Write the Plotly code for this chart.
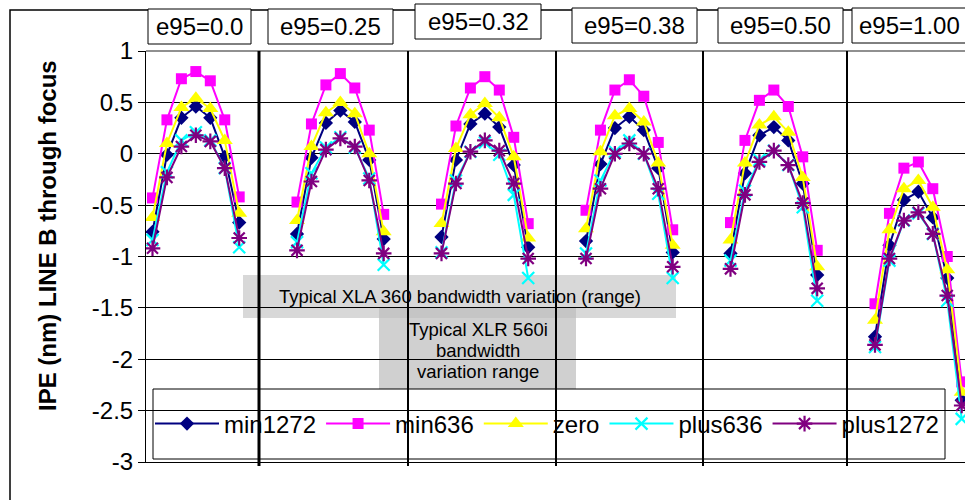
import plotly.graph_objects as go

# ---------------- data ----------------
group_labels = ["e95=0.0", "e95=0.25", "e95=0.32", "e95=0.38", "e95=0.50", "e95=1.00"]
series_names = ["min1272", "min636", "zero", "plus636", "plus1272"]

min1272 = [
    [-0.76, -0.01, 0.35, 0.46, 0.35, -0.03, -0.67],
    [-0.78, -0.04, 0.30, 0.42, 0.31, -0.06, -0.83],
    [-0.81, -0.06, 0.29, 0.39, 0.26, -0.11, -0.91],
    [-0.85, -0.10, 0.25, 0.36, 0.23, -0.14, -0.96],
    [-0.97, -0.19, 0.18, 0.26, 0.13, -0.29, -1.18],
    [-1.78, -0.89, -0.45, -0.37, -0.62, -1.21, -2.40],
]
min636 = [
    [-0.43, 0.33, 0.73, 0.80, 0.71, 0.33, -0.42],
    [-0.47, 0.29, 0.67, 0.78, 0.64, 0.23, -0.59],
    [-0.49, 0.27, 0.64, 0.75, 0.62, 0.16, -0.68],
    [-0.55, 0.23, 0.62, 0.72, 0.56, 0.11, -0.74],
    [-0.67, 0.13, 0.52, 0.62, 0.46, -0.03, -0.94],
    [-1.46, -0.58, -0.14, -0.08, -0.34, -1.00, -2.22],
]
zero = [
    [-0.62, 0.10, 0.45, 0.54, 0.44, 0.13, -0.58],
    [-0.65, 0.07, 0.40, 0.50, 0.39, 0.00, -0.76],
    [-0.68, 0.05, 0.38, 0.49, 0.35, -0.03, -0.82],
    [-0.73, 0.02, 0.37, 0.44, 0.31, -0.09, -0.89],
    [-0.84, -0.09, 0.28, 0.36, 0.21, -0.23, -1.10],
    [-1.62, -0.74, -0.34, -0.26, -0.52, -1.13, -2.32],
]
plus636 = [
    [-0.84, -0.18, 0.13, 0.21, 0.13, -0.14, -0.91],
    [-0.86, -0.19, 0.06, 0.16, 0.06, -0.24, -1.08],
    [-0.96, -0.26, 0.02, 0.11, -0.01, -0.40, -1.21],
    [-0.97, -0.26, 0.02, 0.13, 0.00, -0.39, -1.21],
    [-1.04, -0.36, -0.06, 0.03, -0.11, -0.52, -1.43],
    [-1.88, -1.04, -0.65, -0.58, -0.78, -1.43, -2.58],
]
plus1272 = [
    [-0.92, -0.23, 0.07, 0.18, 0.12, -0.14, -0.82],
    [-0.94, -0.27, 0.04, 0.15, 0.07, -0.26, -0.97],
    [-0.97, -0.29, 0.02, 0.13, 0.03, -0.29, -1.02],
    [-1.02, -0.34, 0.00, 0.10, 0.00, -0.34, -1.10],
    [-1.12, -0.40, -0.08, 0.03, -0.11, -0.48, -1.31],
    [-1.86, -1.02, -0.65, -0.57, -0.78, -1.38, -2.45],
]

y_tickvals = [1, 0.5, 0, -0.5, -1, -1.5, -2, -2.5, -3]
y_ticktext = ["1", "0.5", "0", "-0.5", "-1", "-1.5", "-2", "-2.5", "-3"]

y_title = "IPE (nm) LINE B through focus"
box1_text = "Typical XLA 360 bandwidth variation (range)"
box2_lines = ["Typical XLR 560i", "bandwidth", "variation range"]

# ---------------- styling ----------------
FONT = "Liberation Sans, Arial, sans-serif"
styles = {
    "min1272": dict(color="#000080", symbol="diamond", size=11, lw=2),
    "min636": dict(color="#FF00FF", symbol="square", size=11, lw=2),
    "zero": dict(color="#FFFF00", symbol="triangle-up", size=14, lw=2),
    "plus636": dict(color="#00FFFF", symbol="x-thin-open", size=12, lw=2),
    "plus1272": dict(color="#800080", symbol="asterisk-open", size=13, lw=2),
}
series_data = dict(zip(series_names, [min1272, min636, zero, plus636, plus1272]))

PTS = 7
PITCH = 10  # categories per group (7 points + 3 gap)


def flatten(groups):
    xs, ys = [], []
    for k, g in enumerate(groups):
        for j, v in enumerate(g):
            xs.append(k * PITCH + j)
            ys.append(v)
        xs.append(k * PITCH + PTS)
        ys.append(None)
    return xs, ys


fig = go.Figure()
for name in series_names:
    st = styles[name]
    xs, ys = flatten(series_data[name])
    mk = dict(symbol=st["symbol"], size=st["size"], color=st["color"])
    if "open" in st["symbol"]:
        mk["line"] = dict(color=st["color"], width=2.2)
    fig.add_trace(go.Scatter(
        x=xs, y=ys, name=name, mode="lines+markers",
        line=dict(color=st["color"], width=st["lw"]),
        marker=mk, connectgaps=False,
    ))

# pixel helpers (plot area: x 146..965, y 51..462)
L, R, T, B = 146, 965, 51, 462
W, H = R - L, B - T


def X(p):
    return (p - L) / W


def Y(p):
    return (B - p) / H


x0_cat = 152.5
cat_w = 14.45
xr = [(L - x0_cat) / cat_w, (R - x0_cat) / cat_w]

shapes = []
# outer chart border
shapes.append(dict(type="rect", xref="paper", yref="paper", x0=X(10), x1=X(1100),
                   y0=Y(560), y1=Y(10), line=dict(color="black", width=1.5),
                   fillcolor="rgba(0,0,0,0)", layer="below"))
# grey bandwidth boxes
shapes.append(dict(type="rect", xref="paper", yref="paper", x0=X(243), x1=X(676),
                   y0=Y(318), y1=Y(275), line=dict(width=0),
                   fillcolor="rgba(195,195,195,0.65)", layer="between"))
shapes.append(dict(type="rect", xref="paper", yref="paper", x0=X(379), x1=X(576),
                   y0=Y(391), y1=Y(307), line=dict(width=0),
                   fillcolor="rgba(190,190,190,0.72)", layer="between"))
# legend box
shapes.append(dict(type="rect", xref="paper", yref="paper", x0=X(153), x1=X(945),
                   y0=Y(459), y1=Y(389), line=dict(color="black", width=1),
                   fillcolor="white", layer="between"))
# top plot border (grey)
shapes.append(dict(type="line", xref="paper", yref="paper", x0=0, x1=1,
                   y0=1, y1=1, line=dict(color="#909090", width=2), layer="above"))
# group separator lines
sep_px = [259, 408, 556, 703, 847]
for i, p in enumerate(sep_px):
    xv = (p - x0_cat) / cat_w
    shapes.append(dict(type="line", xref="x", yref="paper", x0=xv, x1=xv,
                       y0=Y(466), y1=1,
                       line=dict(color="black", width=3 if i == 0 else 2), layer="above"))
# group title boxes
title_boxes = [(148, 251, 9, 44), (268, 393, 9, 44), (415, 541, 4, 39),
               (572, 697, 8, 43), (718, 843, 8, 43), (852, 977, 8, 43)]
annotations = []
for (a, b, c, d), lab in zip(title_boxes, group_labels):
    shapes.append(dict(type="rect", xref="paper", yref="paper", x0=X(a), x1=X(b),
                       y0=Y(d), y1=Y(c), line=dict(color="black", width=1),
                       fillcolor="white", layer="above"))
    if b > 965:
        annotations.append(dict(x=X(a + 5), y=Y((c + d) / 2), xref="paper", yref="paper",
                                text=lab, showarrow=False, xanchor="left", yanchor="middle",
                                font=dict(family=FONT, size=24, color="black")))
    else:
        annotations.append(dict(x=X((a + b) / 2), y=Y((c + d) / 2), xref="paper", yref="paper",
                                text=lab, showarrow=False, xanchor="center", yanchor="middle",
                                font=dict(family=FONT, size=24, color="black")))

annotations.append(dict(x=X(460), y=Y(296), xref="paper", yref="paper", text=box1_text,
                        showarrow=False, xanchor="center", yanchor="middle",
                        font=dict(family=FONT, size=18.5, color="black")))
for i, line_txt in enumerate(box2_lines):
    annotations.append(dict(x=X(478), y=Y(329 + 21 * i), xref="paper", yref="paper",
                            text=line_txt, showarrow=False, xanchor="center", yanchor="middle",
                            font=dict(family=FONT, size=18.5, color="black")))
annotations.append(dict(x=X(47), y=Y(236), xref="paper", yref="paper",
                        text="<b>" + y_title + "</b>", textangle=-90, showarrow=False,
                        xanchor="center", yanchor="middle",
                        font=dict(family=FONT, size=24, color="black")))

fig.update_layout(
    width=965, height=500,
    margin=dict(l=L, r=0, t=T, b=500 - B, pad=0),
    paper_bgcolor="white", plot_bgcolor="white",
    font=dict(family=FONT, size=24, color="black"),
    showlegend=True,
    legend=dict(orientation="h", x=X(150), xanchor="left", y=Y(424), yanchor="middle",
                bgcolor="rgba(0,0,0,0)", borderwidth=0, itemwidth=64,
                font=dict(family=FONT, size=24, color="black"), tracegroupgap=0),
    xaxis=dict(range=xr, showgrid=False, zeroline=False, showticklabels=False, ticks="",
               showline=True, linecolor="black", linewidth=1),
    yaxis=dict(range=[-3, 1], tickvals=y_tickvals, ticktext=y_ticktext, showgrid=True,
               gridcolor="black", gridwidth=1, zeroline=False, showline=True,
               linecolor="black", linewidth=1, ticks="outside", ticklen=7,
               tickcolor="black", tickfont=dict(family=FONT, size=24, color="black")),
    shapes=shapes, annotations=annotations,
)

fig.write_html("out.html")
